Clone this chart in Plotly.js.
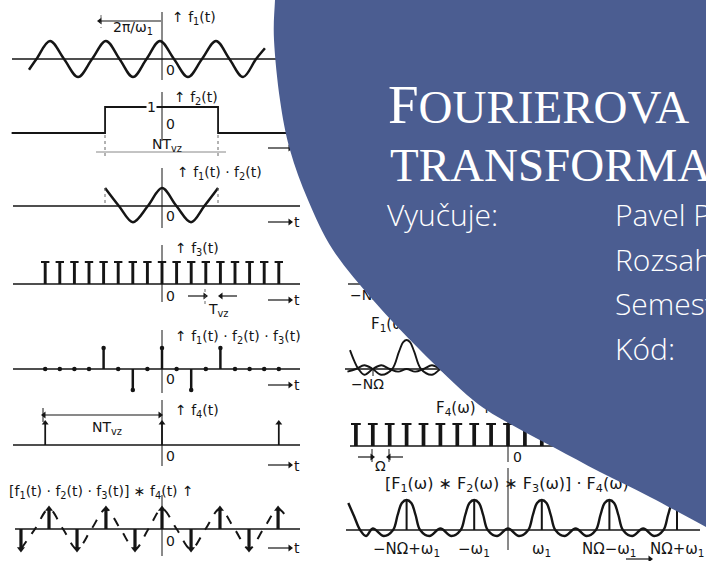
<!DOCTYPE html>
<html>
<head>
<meta charset="utf-8">
<script src="https://cdn.plot.ly/plotly-3.0.1.min.js"></script>
<style>
html,body{margin:0;padding:0;background:#ffffff;overflow:hidden;}
#chart{width:706px;height:561px;}
</style>
</head>
<body>
<div id="chart"></div>
<script>
// ================= DATA =================
// time in units of T_vz, amplitudes relative
const f1_t = [-9.11,-8.60,-7.67,-6.71,-5.75,-4.79,-3.84,-2.91,-1.99,-1.06,-0.14,0.82,1.78,2.74,3.70,4.62,5.55,6.44,7.05];
const f1_v = [-0.6,0,1,0,-1,0,1,0,-1,0,1,0,-1,0,1,0,-1,0,0.6];
const f2_t = [-10.3,-3.9,-3.9,3.84,3.84,10.5];
const f2_v = [0,0,1,1,0,0];
const f12_t = [-3.9,-2.95,-1.99,-0.97,0,0.99,1.99,2.9,3.84];
const f12_v = [1,0,-0.9,0,1,0,-0.9,0,1];
const f3_t = [-8,-7,-6,-5,-4,-3,-2,-1,0,1,2,3,4,5,6,7,8];
const f3_v = [1,1,1,1,1,1,1,1,1,1,1,1,1,1,1,1,1];
const f123_t = [-8,-7,-6,-5,-4,-3,-2,-1,0,1,2,3,4,5,6,7,8];
const f123_v = [0,0,0,0,1,0,-1,0,1,0,-1,0,1,0,0,0,0];
const f4_t = [-8,0,8];
const f4_v = [1,1,1];
const conv_t = [-9.66,-7.74,-5.82,-3.84,-1.85,0,1.99,3.97,5.96,7.95];
const conv_v = [-1,1,-1,1,-1,1,-1,1,-1,1];
const convWave_t = [-9.66,-8.7,-7.74,-6.78,-5.82,-4.83,-3.84,-2.85,-1.85,-0.93,0,1.0,1.99,2.98,3.97,4.97,5.96,6.95,7.95,8.6];
const convWave_v = [-1,0,1,0,-1,0,1,0,-1,0,1,0,-1,0,1,0,-1,0,1,0.5];
// frequency in units of Ω
const specM_w = [-9.35,-9.1,-8.85,-8.5,-8,-7.5,-7,-6.5,-6,-5.5,-5,-4.5,-4,-3.5,-3,-2.6,-2.3,-2];
const specM_v = [0.65,0.28,0,-0.2,0,0.13,0,-0.09,0,-0.09,0,0.13,0,-0.2,0,0.5,0.9,1];
const specP_w = [-9.5,-9,-8.5,-8,-7.5,-6.85,-6.45,-6.2,-6,-5.8,-5.55,-5.15,-4.5,-4,-3.5,-3,-2.5];
const specP_v = [-0.09,0,0.13,0,-0.2,0,0.6,0.93,1,0.93,0.6,0,-0.2,0,0.13,0,-0.09];
const F4_w = [-9,-8,-7,-6,-5,-4,-3,-2,-1,0,1,2,3,4,5,6,7,8,9,10,11];
const F4_v = [1,1,1,1,1,1,1,1,1,1,1,1,1,1,1,1,1,1,1,1,1];
const spec_w = [-9.45,-9.1,-8.75,-8.4,-8,-7.35,-6.8,-6.53,-6.28,-6,-5.72,-5.47,-5.2,-4.65,-4,-3.35,-2.8,-2.53,-2.28,-2,-1.72,-1.47,-1.2,-0.65,0,0.65,1.2,1.47,1.72,2,2.28,2.53,2.8,3.35,4,4.65,5.2,5.47,5.72,6,6.28,6.53,6.8,7.35,8,8.65,9.2,9.47,9.72,10];
const spec_v = [0.9,0.45,0,-0.2,0.05,-0.2,0,0.5,0.9,1,0.9,0.5,0,-0.2,0.05,-0.2,0,0.5,0.9,1,0.9,0.5,0,-0.2,0.05,-0.2,0,0.5,0.9,1,0.9,0.5,0,-0.2,0.05,-0.2,0,0.5,0.9,1,0.9,0.5,0,-0.2,0.05,-0.2,0,0.5,0.9,1];
const samp_w = [-6,-2,2,6,10];
const samp_v = [1,1,1,1,1];
const specTickW = [-6,-2,2,6,10];
const specTickLabels = ['\u2212N\u03A9+\u03C9<sub>1</sub>','\u2212\u03C9<sub>1</sub>','\u03C9<sub>1</sub>','N\u03A9\u2212\u03C9<sub>1</sub>','N\u03A9+\u03C9<sub>1</sub>'];

// ================= LAYOUT HELPERS =================
const W = 706, H = 561;
const INK = '#151515';
const BLUE = '#4b5d91';
const T0 = 162, TU = 14.6;
const W0 = 508, WU = 16.9;
function yRange(basePx, ampPx){ const hi = basePx/ampPx; return [hi - H/ampPx, hi]; }
const panels = {y2:[59,18], y3:[133,26], y4:[206,18], y5:[284,22], y6:[369,21], y7:[445,22], y8:[529,20], y9:[369,29], y10:[446,22], y11:[530,30]};

const traces = [];
function line(x,y,xa,ya,opt){ traces.push(Object.assign({type:'scatter',mode:'lines',x:x,y:y,xaxis:xa,yaxis:ya,hoverinfo:'skip',line:{color:INK,width:2.3,shape:'spline',smoothing:1}},opt||{})); }
function bars(x,y,xa,ya,w){ traces.push({type:'bar',x:x,y:y,xaxis:xa,yaxis:ya,width:w,marker:{color:INK,line:{width:0}},hoverinfo:'skip'}); }
function marks(x,y,xa,ya,marker){ traces.push({type:'scatter',mode:'markers',x:x,y:y,xaxis:xa,yaxis:ya,marker:marker,hoverinfo:'skip'}); }

// left column
line(f1_t,f1_v,'x2','y2',{line:{color:INK,width:2.5,shape:'spline',smoothing:1}});
line(f2_t,f2_v,'x2','y3',{line:{color:INK,width:1.8,shape:'linear'}});
line(f12_t,f12_v,'x2','y4',{line:{color:INK,width:2.5,shape:'spline',smoothing:1}});
bars(f3_t,f3_v,'x2','y5',0.2);
marks(f3_t,f3_v,'x2','y5',{symbol:'line-ew',size:6,line:{width:2,color:INK}});
bars(f123_t,f123_v,'x2','y6',0.17);
marks(f123_t,f123_v,'x2','y6',{symbol:'circle',size:4.5,color:INK});
bars(f4_t,f4_v,'x2','y7',0.12);
marks(f4_t,f4_v,'x2','y7',{symbol:'triangle-up',size:6,color:INK});
line(convWave_t,convWave_v,'x2','y8',{line:{color:INK,width:2,shape:'spline',dash:'dash'}});
bars(conv_t,conv_v,'x2','y8',0.22);
marks(conv_t,conv_v,'x2','y8',{symbol:conv_v.map(v=>v>0?'triangle-up':'triangle-down'),size:7,color:INK});
// right column
line(specM_w,specM_v,'x3','y9',{line:{color:INK,width:1.9,shape:'spline'}});
line(specP_w,specP_v,'x3','y9',{line:{color:INK,width:1.9,shape:'spline'}});
bars(F4_w,F4_v,'x3','y10',0.22);
marks(F4_w,F4_v,'x3','y10',{symbol:'line-ew',size:7,line:{width:2,color:INK}});
line(spec_w,spec_v,'x3','y11',{line:{color:INK,width:2.4,shape:'spline'}});
bars(samp_w,samp_v,'x3','y11',0.12);

// dimension / direction arrows: [tip x, tip y, tail x, tail y, both ends]
const arrowDefs = [[100,21,161,21,0],[44,415,160,415,1],[205,296,188,296,0],[221,296,237,296,0],[372,457,358,457,0],[389,457,403,457,0],
  [290,148,268,148,0],[290,222,268,222,0],[290,300,268,300,0],[290,385,268,385,0],[290,465,268,465,0],[290,548,268,548,0],[650,559,626,559,0]];
const headX = [], headY = [], headS = [];
arrowDefs.forEach(a=>{
  headX.push(a[0]); headY.push(a[1]); headS.push(a[0]>a[2]?'triangle-right':'triangle-left');
  if(a[4]){ headX.push(a[2]); headY.push(a[3]); headS.push(a[2]>a[0]?'triangle-right':'triangle-left'); }
});
traces.push({type:'scatter',mode:'markers',x:headX,y:headY,xaxis:'x',yaxis:'y',hoverinfo:'skip',marker:{symbol:headS,size:6,color:INK}});

// labels that sit partly under the blue disc (drawn as text traces so the disc covers them)
const LBL = {family:'DejaVu Sans, sans-serif', size:14, color:INK};
traces.push({type:'scatter',mode:'text',xaxis:'x',yaxis:'y',hoverinfo:'skip',
  x:[350,371,436,385], y:[296,325,409,485],
  text:['\u2212N\u03A9','F<sub>1</sub>(\u03C9) \u2217 F<sub>2</sub>(\u03C9) \u2217 F<sub>3</sub>(\u03C9) \u2191','F<sub>4</sub>(\u03C9) \u2191','[F<sub>1</sub>(\u03C9) \u2217 F<sub>2</sub>(\u03C9) \u2217 F<sub>3</sub>(\u03C9)] \u00B7 F<sub>4</sub>(\u03C9)'],
  textposition:'middle right', textfont:{family:LBL.family,size:[14,15,15,16],color:INK}, marker:{size:0}});

// ================= SHAPES =================
const shapes = [];
function seg(x0,y0,x1,y1,opt){ shapes.push(Object.assign({type:'line',xref:'x',yref:'y',x0:x0,y0:y0,x1:x1,y1:y1,layer:'above',line:{color:INK,width:1.3}},opt||{})); }
// baselines
seg(12,59,300,59); seg(13,206,300,206); seg(13,284,300,284); seg(13,369,300,369); seg(13,445,300,445); seg(15,529,300,529);
seg(345,369,470,369); seg(350,446,600,446); seg(346,530,700,530); seg(348,284,364,284);
// vertical axes
const THIN = {color:INK,width:1};
seg(162,12,162,80,{line:THIN}); seg(162,92,162,141,{line:THIN}); seg(162,168,162,228,{line:THIN});
seg(162,245,162,302,{line:THIN}); seg(162,330,162,393,{line:THIN}); seg(162,400,162,466,{line:THIN});
seg(162,495,162,556,{line:THIN});
seg(508,418,508,462,{line:THIN}); seg(508,468,508,550,{line:THIN});
seg(373,369,373,376,{line:THIN});
// dimension helpers
const DASH = {color:'#666',width:1,dash:'dot'};
seg(101,15,101,28,{line:DASH});
seg(105,135,105,158,{line:DASH}); seg(218,135,218,158,{line:DASH});
seg(96,152,226,152,{line:{color:'#888',width:1}});
seg(105,188,105,206,{line:DASH}); seg(218,188,218,206,{line:DASH});
seg(205,289,205,304,{line:DASH});
seg(43,408,43,422,{line:THIN});
seg(372,449,372,462,{line:THIN}); seg(389,449,389,462,{line:THIN});
// arrow shafts
arrowDefs.forEach(a=>seg(a[2],a[3],a[0],a[1],{line:{color:INK,width:1.2}}));

// blue disc (decoration)
const edge = [[277,-30],[275,0],[274,40],[280,100],[290,150],[308,200],[333,250],[373,300],[420,350],[473,400],[512,425],[555,448],[600,472],[650,497],[706,527],[760,556]];
let d = 'M' + edge[0][0] + ',' + edge[0][1];
for(let i=0;i<edge.length-1;i++){
  const p0=edge[Math.max(i-1,0)], p1=edge[i], p2=edge[i+1], p3=edge[Math.min(i+2,edge.length-1)];
  const c1=[p1[0]+(p2[0]-p0[0])/6, p1[1]+(p2[1]-p0[1])/6];
  const c2=[p2[0]-(p3[0]-p1[0])/6, p2[1]-(p3[1]-p1[1])/6];
  d += ' C' + c1[0].toFixed(2)+','+c1[1].toFixed(2)+' '+c2[0].toFixed(2)+','+c2[1].toFixed(2)+' '+p2[0]+','+p2[1];
}
d += ' L760,-30 Z';
shapes.push({type:'path',xref:'x',yref:'y',path:d,fillcolor:BLUE,line:{width:0},layer:'above'});

// ================= ANNOTATIONS =================
const ann = [];
function lab(text,x,y,anchor,opt){ ann.push(Object.assign({text:text,x:x,y:y,xref:'x',yref:'y',xanchor:anchor||'left',yanchor:'middle',showarrow:false,font:LBL,borderpad:0},opt||{})); }
lab('2\u03C0/\u03C9<sub>1</sub>',133,28,'center');
lab('\u2191 f<sub>1</sub>(t)',171,18);
lab('0',165,70);
lab('1',151,107,'center',{bgcolor:'#ffffff'});
lab('\u2191 f<sub>2</sub>(t)',173,98);
lab('0',165,124);
lab('NT<sub>vz</sub>',167,145,'center');
lab('\u2191 f<sub>1</sub>(t) \u00B7 f<sub>2</sub>(t)',176,173);
lab('0',165,216);
lab('t',293,222);
lab('\u2191 f<sub>3</sub>(t)',174,249);
lab('0',165,296);
lab('T<sub>vz</sub>',218,310,'center');
lab('t',293,300);
lab('\u2191 f<sub>1</sub>(t) \u00B7 f<sub>2</sub>(t) \u00B7 f<sub>3</sub>(t)',174,337);
lab('0',165,379);
lab('t',293,385);
lab('\u2191 f<sub>4</sub>(t)',174,411);
lab('NT<sub>vz</sub>',107,428,'center');
lab('0',165,456);
lab('t',293,466);
lab('[f<sub>1</sub>(t) \u00B7 f<sub>2</sub>(t) \u00B7 f<sub>3</sub>(t)] \u2217 f<sub>4</sub>(t) \u2191',8,492);
lab('0',165,541);
lab('t',293,548);
lab('\u2212N\u03A9',350,384);
lab('0',512,457);
lab('\u03A9',380,466,'center');
specTickW.forEach((w,i)=>ann.push({text:specTickLabels[i],x:w,y:549,xref:'x3',yref:'y',xanchor:'center',yanchor:'middle',showarrow:false,font:{family:LBL.family,size:15,color:INK}}));
// title block on the disc
const SERIF = {family:'Liberation Serif, serif', size:55, color:'#ffffff'};
const SANS = {family:'Open Sans, Noto Sans, sans-serif', size:30, color:'#ffffff', weight:300};
ann.push({text:'F<span style="font-size:47px">OURIEROVA</span>',x:386,y:104,xref:'x',yref:'y',xanchor:'left',yanchor:'middle',showarrow:false,font:SERIF});
ann.push({text:'TRANSFORMACE',x:388,y:165,xref:'x',yref:'y',xanchor:'left',yanchor:'middle',showarrow:false,font:Object.assign({},SERIF,{size:47})});
const infoRows = [['Vyu\u010Duje:',385,214],['Pavel P',613,214],['Rozsah',613,259],['Semest',613,303],['K\u00F3d:',613,348]];
infoRows.forEach(r=>ann.push({text:r[0],x:r[1],y:r[2],xref:'x',yref:'y',xanchor:'left',yanchor:'middle',showarrow:false,font:SANS}));

const layout = {
  width:W, height:H, margin:{l:0,r:0,t:0,b:0}, paper_bgcolor:'#ffffff', plot_bgcolor:'rgba(0,0,0,0)',
  showlegend:false, barmode:'overlay', dragmode:false,
  xaxis:{range:[0,W],visible:false,fixedrange:true},
  yaxis:{range:[H,0],visible:false,fixedrange:true},
  xaxis2:{overlaying:'x',range:[-T0/TU,(W-T0)/TU],visible:false,fixedrange:true},
  xaxis3:{overlaying:'x',range:[-W0/WU,(W-W0)/WU],visible:false,fixedrange:true},
  shapes:shapes, annotations:ann
};
Object.keys(panels).forEach(k=>{
  const n = k.slice(1);
  layout['yaxis'+n] = {overlaying:'y',range:yRange(panels[k][0],panels[k][1]),visible:false,fixedrange:true};
});
Plotly.newPlot('chart',traces,layout,{displayModeBar:false,staticPlot:true});
</script>
</body>
</html>
